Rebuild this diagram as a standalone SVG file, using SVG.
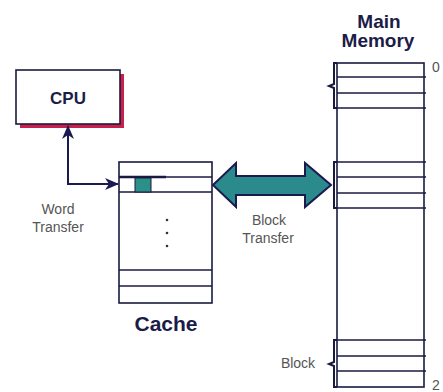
<svg xmlns="http://www.w3.org/2000/svg" width="443" height="392" viewBox="0 0 443 392">
<defs>
<style>
.box{fill:#fff;stroke:#1a1a40;stroke-width:1.6}
.ln{stroke:#1a1a40;stroke-width:1.6;fill:none}
.br{stroke:#1a1a40;stroke-width:2;fill:none}
.title{font-family:"Liberation Sans",Arial,sans-serif;font-weight:bold;fill:#1c1c48}
.lbl{font-family:"Liberation Sans",Arial,sans-serif;fill:#555;font-size:14px}
.conn{stroke:#1a1a50;stroke-width:2;fill:none}
</style>
<marker id="ah" viewBox="0 0 14 12" refX="13" refY="6" markerWidth="14" markerHeight="12" markerUnits="userSpaceOnUse" orient="auto">
<path d="M0,0 L14,6 L0,12 L4,6 Z" fill="#1a1a50"/>
</marker>
</defs>
<rect width="443" height="392" fill="#fff"/>
<g id="cpu">
<rect x="20" y="74" width="104" height="54" fill="#c8204a"/>
<rect x="16" y="70" width="104" height="54" class="box"/>
<text x="68" y="104" text-anchor="middle" class="title" font-size="17" fill="#222">CPU</text>
</g>
<g id="cache">
<rect x="119" y="162" width="93" height="141" class="box"/>
<line x1="119" y1="177" x2="212" y2="177" class="ln"/>
<line x1="119" y1="192" x2="212" y2="192" class="ln"/>
<line x1="119" y1="270" x2="212" y2="270" class="ln"/>
<line x1="119" y1="286" x2="212" y2="286" class="ln"/>
<line x1="119" y1="177" x2="166" y2="177" stroke="#1a1a40" stroke-width="2.6"/>
<rect x="135" y="178" width="16" height="14" fill="#2a9088" stroke="#1a1a40" stroke-width="1"/>
<circle cx="167" cy="220" r="1.3" fill="#333"/>
<circle cx="167" cy="233" r="1.3" fill="#333"/>
<circle cx="167" cy="246" r="1.3" fill="#333"/>
<text x="166" y="331" text-anchor="middle" class="title" font-size="21">Cache</text>
</g>
<g id="main-memory">
<text x="379" y="28" text-anchor="middle" class="title" font-size="19">Main</text>
<text x="378" y="47" text-anchor="middle" class="title" font-size="19">Memory</text>
<rect x="337" y="63" width="87" height="324" class="box"/>
<line x1="337" y1="77" x2="426" y2="77" class="ln"/>
<line x1="337" y1="93" x2="426" y2="93" class="ln"/>
<line x1="337" y1="108" x2="426" y2="108" class="ln"/>
<line x1="337" y1="162" x2="426" y2="162" class="ln"/>
<line x1="337" y1="177" x2="426" y2="177" class="ln"/>
<line x1="337" y1="193" x2="426" y2="193" class="ln"/>
<line x1="337" y1="208" x2="426" y2="208" class="ln"/>
<line x1="337" y1="340" x2="426" y2="340" class="ln"/>
<line x1="337" y1="356" x2="426" y2="356" class="ln"/>
<line x1="337" y1="371" x2="426" y2="371" class="ln"/>
<path d="M337,63 H334 V84 L329,86 L334,88 V108 H337" class="br"/>
<path d="M337,162 H334 V208 H337" class="br"/>
<path d="M337,340 H334 V362 L329,364 L334,366 V387 H337" class="br"/>
<text x="436" y="72" text-anchor="middle" class="lbl" font-size="10">0</text>
<text x="432" y="390" class="lbl" font-size="9">2</text>
<text x="298" y="368" text-anchor="middle" class="lbl" font-size="12">Block</text>
</g>
<g id="connectors">
<path d="M68,184 V126" class="conn" marker-end="url(#ah)"/>
<path d="M67,184 H118" class="conn" marker-end="url(#ah)"/>
<polygon points="213,185 236,163 236,176 305,176 305,163 331,185 305,207 305,195 236,195 236,207" fill="#2a8a8c" stroke="#1a1a50" stroke-width="2" stroke-linejoin="miter"/>
</g>
<g id="labels">
<text x="58" y="214" text-anchor="middle" class="lbl">Word</text>
<text x="58" y="232" text-anchor="middle" class="lbl">Transfer</text>
<text x="269" y="225" text-anchor="middle" class="lbl">Block</text>
<text x="268" y="243" text-anchor="middle" class="lbl">Transfer</text>
</g>
</svg>
